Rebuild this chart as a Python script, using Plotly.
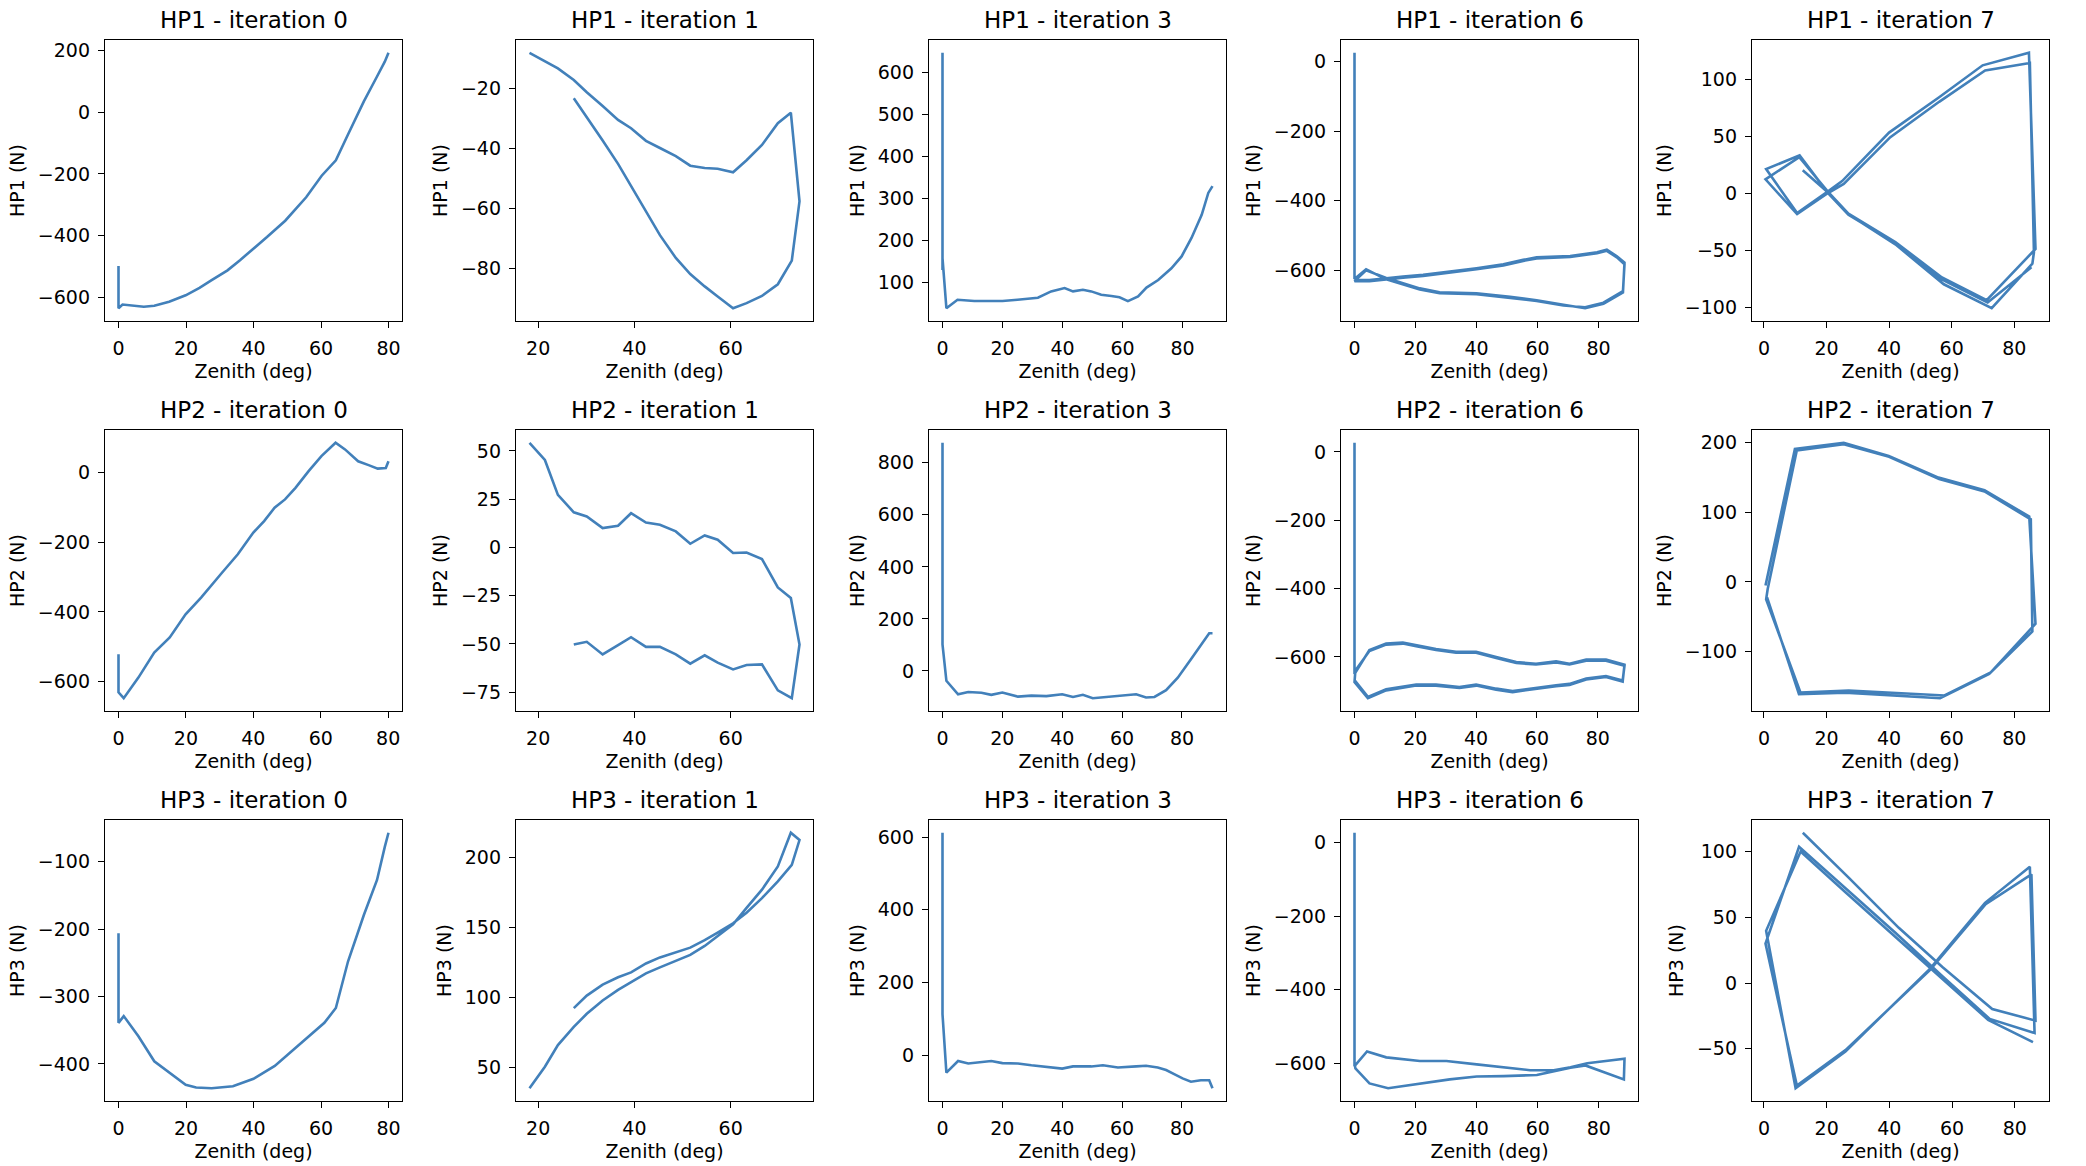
import plotly.graph_objects as go

# ---------------- data ----------------
# iteration 0
zen_it0_hp1 = [0, 0, 1.2, 4, 7.5, 10.6, 15, 19.9, 24, 27.6, 32.3, 36, 40, 44, 49.4, 52.5, 55.6, 60.2, 64.4, 68, 72.7, 76.6, 78.9, 80]
hp1_it0 = [-499, -636, -624, -628, -631, -628, -615, -594, -570, -545, -513, -480, -443, -405, -352, -315, -276, -206, -156, -72, 35, 116, 164, 193]

zen_it0_hp2 = [0, 0, 1.55, 5.9, 10.6, 15.2, 19.9, 24.5, 30.7, 35.4, 40, 43.2, 46.3, 49.4, 52.5, 56.4, 60.2, 64.4, 67.2, 71.1, 74.2, 76.9, 79.3, 80.1]
hp2_it0 = [-521, -630, -647, -588, -516, -473, -407, -359, -288, -235, -173, -140, -102, -78, -45, 3, 46, 84, 65, 31, 20, 10, 12, 31]

zen_it0_hp3 = [0, 0, 1.55, 5.9, 10.6, 15.2, 19.9, 23, 27.6, 33.9, 40, 46.3, 52.5, 58.7, 61, 64.4, 68, 72.7, 76.6, 78.9, 80]
hp3_it0 = [-206, -339, -329, -359, -396, -413, -431, -435, -436, -433, -422, -403, -376, -349, -339, -317, -248, -179, -127, -78, -57]

# iteration 1 (same zenith sequence for the three hardpoints)
zen_it1 = [18.2, 21.4, 24.1, 27.4, 30.1, 33.4, 36.6, 39.3, 42.4, 45.3, 48.6, 51.6, 54.6, 57.3, 60.5, 63.3, 66.5, 69.8, 72.5, 74.3,
           72.7, 69.8, 66.5, 63.3, 60.5, 57.3, 54.6, 51.6, 48.6, 45.3, 42.4, 39.3, 36.6, 33.4, 30.1, 27.4]
hp1_it1 = [-8.1, -11, -13.3, -17.2, -21.3, -25.9, -30.5, -33.3, -37.5, -39.9, -42.6, -45.8, -46.6, -46.8, -48, -44, -38.9, -31.6, -28.1, -57.7,
           -77.5, -85.4, -89.3, -91.7, -93.4, -89.5, -86.1, -82, -76.6, -69, -61, -52.5, -45.2, -37.4, -29.6, -23.3]
hp2_it1 = [54.2, 45.3, 27.2, 18.2, 16, 10, 11.2, 17.7, 12.9, 11.7, 8.3, 1.9, 6.2, 4, -2.9, -2.6, -6, -20.7, -26.2, -50.3,
           -78.1, -74, -60.6, -60.9, -63.2, -59.7, -55.9, -60.2, -55.4, -51.5, -51.5, -46.5, -50.6, -55.4, -48.9, -50.3]
hp3_it1 = [35.1, 50.5, 65.9, 78.9, 88.3, 97.8, 105.4, 110.8, 117.2, 121.5, 126.2, 130.4, 136.8, 143.9, 152.2, 164, 177, 193.6, 217.7, 212.5,
           194.8, 183, 171, 160.5, 153, 146.3, 140.9, 135.6, 132.1, 128.6, 124.3, 117.9, 114.4, 109.2, 101.3, 92.4]

# iteration 3
zen_it3_hp1 = [0, 0, 0, 1.3, 5, 10.6, 16.2, 20, 25, 31.8, 36.2, 40.7, 43.5, 46.8, 49.6, 52.9, 56.3, 59, 61.8, 65.2, 68, 71.9, 76.3, 79.7, 83, 86.4, 88.6, 90]
hp1_it3 = [646, 130, 158, 39, 59, 56, 55, 56, 59, 64, 79, 87, 79, 83, 79, 71, 68, 65, 56, 67, 88, 106, 134, 162, 206, 261, 313, 329]

zen_it3_hp2 = [0, 0, 1.3, 5.2, 8.6, 13, 16.3, 20, 25.2, 29.7, 34.7, 40, 43.6, 46.9, 50.2, 53.6, 58.6, 64.7, 68, 70.8, 74.7, 78.6, 83, 86.9, 89.1, 90.2]
hp2_it3 = [877, 102, -38, -90, -81, -84, -92, -83, -99, -95, -97, -90, -100, -92, -105, -101, -97, -90, -102, -100, -74, -26, 45, 109, 145, 145]

zen_it3_hp3 = [0, 0, 1.3, 5.2, 8.6, 13, 16.3, 20, 25.2, 29.7, 34.7, 40, 43.6, 49.7, 53.6, 58.6, 64.7, 68, 71.9, 74.7, 77.4, 80.2, 83, 86.3, 89.1, 90.2]
hp3_it3 = [612, 113, -48, -16, -23, -18, -16, -22, -23, -28, -32, -37, -31, -31, -28, -34, -31, -29, -34, -41, -52, -64, -73, -69, -69, -91]

# iteration 6
zen_it6_hp1 = [0, 0, 3.8, 10.4, 21.4, 27.9, 40, 51, 59.7, 68.5, 75.6, 81.6, 88, 88.5, 86, 82.7, 79.5, 70.7, 59.7, 55.3, 48.8, 40, 31.2, 22.5, 15.9, 4.9, 0,
               3.8, 10.4, 21.4, 27.9, 40, 51, 59.7, 68.5, 75.6, 81.6, 88, 88.5, 86, 82.7, 79.5, 70.7, 59.7, 55.3, 48.8, 40, 31.2, 22.5, 15.9, 4.9, 0]
hp1_it6 = [25, -625, -597, -626, -655, -666, -669, -679, -688, -701, -706, -693, -660, -583, -563, -544, -551, -562, -566, -573, -586, -597, -607, -616, -621, -631, -631,
           -600, -622, -652, -663, -666, -676, -686, -699, -709, -696, -664, -578, -560, -541, -548, -559, -563, -570, -583, -594, -604, -613, -618, -628, -628]

zen_it6_hp2 = [0, 0, 4.9, 10.4, 15.9, 20.3, 26.8, 33.4, 40, 46.6, 53.2, 59.7, 66.3, 70.7, 76.2, 82.7, 88.8, 88.2, 82.7, 76.2, 70.7, 66.3, 59.7, 52, 46.6, 40, 34.5, 26.8, 20.3, 10.4, 4.4, 0, 0.3,
               4.9, 10.4, 15.9, 20.3, 26.8, 33.4, 40, 46.6, 53.2, 59.7, 66.3, 70.7, 76.2, 82.7, 88.8, 88.2, 82.7, 76.2, 70.7, 66.3, 59.7, 52, 46.6, 40, 34.5, 26.8, 20.3, 10.4, 4.4, 0]
hp2_it6 = [27, -650, -580, -561, -558, -566, -577, -585, -585, -600, -615, -620, -613, -620, -608, -608, -623, -672, -659, -666, -682, -686, -693, -703, -696, -684, -691, -684, -684, -698, -721, -674, -640,
           -583, -564, -561, -569, -580, -588, -588, -603, -618, -622, -616, -622, -611, -611, -626, -669, -656, -663, -679, -683, -690, -700, -693, -681, -688, -681, -681, -695, -717, -668]

zen_it6_hp3 = [0, 0, 4.1, 10.4, 21.4, 30.1, 40, 48.8, 57.5, 65.2, 70.7, 76.2, 81.6, 88.4, 88.2, 81.6, 75.6, 70.7, 64.7, 59.7, 48.8, 40, 31.2, 21.4, 11, 4.9, 0.3, 0]
hp3_it6 = [27, -608, -568, -584, -594, -594, -603, -612, -619, -619, -611, -600, -594, -588, -644, -623, -606, -612, -623, -632, -635, -636, -644, -655, -668, -655, -614, -600]

# iteration 7
zen_it7_hp1 = [12.4, 20.5, 27.5, 42, 57.5, 72.8, 85.8, 86.3, 85, 70.7, 56, 40.4, 25.5, 20.5, 10.6, 0.5, 11.3,
               20.5, 27, 42, 56.9, 71.2, 86.8, 84.7, 69.9, 56, 40, 25, 20.5, 10.6, 0.7, 11.4,
               20.5, 27, 42, 57, 71.5, 85.5]
hp1_it7 = [20, 0.5, -19.5, -45, -80, -101, -62, -52, 114, 107.5, 80, 49, 8, 0, -18.5, 12, 31.5,
           1, -18, -43, -74, -94, -49, 123, 112, 84, 53, 10.5, 1.5, -17.5, 21, 33,
           0, -19, -44, -76, -96, -65]

zen_it7_hp2 = [0.5, 9.9, 25.5, 39.9, 55.8, 70.5, 84.8, 86.8, 72.5, 57.7, 27.1, 11.7, 0.7,
               1.2, 10.5, 25.5, 40, 56, 70.5, 85.3, 85.8, 72, 56.3, 26, 11.2, 1]
hp2_it7 = [-5, 191, 200, 181, 150, 132, 94, -60, -130, -163, -156, -159, -25,
           -10, 189, 198, 180, 148, 130, 90, -71, -132, -167, -159, -161, -22]

zen_it7_hp3 = [12.4, 27.1, 43, 57, 72.8, 86.6, 85.3, 70.7, 53, 26, 10.5, 0.5,
               11.2, 26, 42, 57, 72, 86.3, 84.8, 70.5, 53, 26, 10.1, 0.7,
               11.7, 26, 42, 57, 71.5, 85.8]
hp3_it7 = [114.3, 80, 42, 12, -19.7, -28.6, 82.7, 60, 10, -51, -78, 30,
           103.7, 72, 38, 5, -27.3, -38, 88.5, 61, 11, -52, -80, 39.7,
           100, 69, 35, 3, -28, -45]

hardpoints = ["HP1", "HP2", "HP3"]
iterations = [0, 1, 3, 6, 7]

series = {
    ("HP1", 0): (zen_it0_hp1, hp1_it0), ("HP1", 1): (zen_it1, hp1_it1), ("HP1", 3): (zen_it3_hp1, hp1_it3),
    ("HP1", 6): (zen_it6_hp1, hp1_it6), ("HP1", 7): (zen_it7_hp1, hp1_it7),
    ("HP2", 0): (zen_it0_hp2, hp2_it0), ("HP2", 1): (zen_it1, hp2_it1), ("HP2", 3): (zen_it3_hp2, hp2_it3),
    ("HP2", 6): (zen_it6_hp2, hp2_it6), ("HP2", 7): (zen_it7_hp2, hp2_it7),
    ("HP3", 0): (zen_it0_hp3, hp3_it0), ("HP3", 1): (zen_it1, hp3_it1), ("HP3", 3): (zen_it3_hp3, hp3_it3),
    ("HP3", 6): (zen_it6_hp3, hp3_it6), ("HP3", 7): (zen_it7_hp3, hp3_it7),
}

# tick spacing per panel (y), matching the reference's tick choices
y_dtick = {
    ("HP1", 0): 200, ("HP1", 1): 20, ("HP1", 3): 100, ("HP1", 6): 200, ("HP1", 7): 50,
    ("HP2", 0): 200, ("HP2", 1): 25, ("HP2", 3): 200, ("HP2", 6): 200, ("HP2", 7): 100,
    ("HP3", 0): 100, ("HP3", 1): 50, ("HP3", 3): 200, ("HP3", 6): 200, ("HP3", 7): 50,
}

# ---------------- layout ----------------
W, H = 2086, 1166
col_left = [105, 516, 929, 1341, 1752]
row_top = [40, 430, 820]
pw, ph = 297, 281
LINE_COLOR = "#4280ba"
FONT = "DejaVu Sans"

fig = go.Figure()
annotations = []
layout_axes = {}

def padded(vals):
    lo, hi = min(vals), max(vals)
    s = hi - lo
    return [lo - 0.05 * s, hi + 0.05 * s]

n = 0
for r, hp in enumerate(hardpoints):
    for c, it in enumerate(iterations):
        n += 1
        xs, ys = series[(hp, it)]
        xname = "x" if n == 1 else f"x{n}"
        yname = "y" if n == 1 else f"y{n}"
        fig.add_trace(go.Scatter(x=xs, y=ys, mode="lines",
                                 line=dict(color=LINE_COLOR, width=2.6),
                                 xaxis=xname, yaxis=yname, showlegend=False,
                                 hoverinfo="skip"))
        x0 = col_left[c] / W
        x1 = (col_left[c] + pw) / W
        y1 = 1 - row_top[r] / H
        y0 = 1 - (row_top[r] + ph) / H
        common = dict(showline=True, mirror=True, linecolor="black", linewidth=1.3,
                      ticks="outside", ticklen=6, tickwidth=1.3, tickcolor="black",
                      showgrid=False, zeroline=False,
                      tickfont=dict(family=FONT, size=19, color="black"),
                      tickmode="linear", tick0=0, ticklabelstandoff=4)
        layout_axes["xaxis" if n == 1 else f"xaxis{n}"] = dict(
            domain=[x0, x1], anchor=yname, range=padded(xs), dtick=20,
            title=dict(text="Zenith (deg)", font=dict(family=FONT, size=19, color="black"), standoff=6),
            **common)
        layout_axes["yaxis" if n == 1 else f"yaxis{n}"] = dict(
            domain=[y0, y1], anchor=xname, range=padded(ys), dtick=y_dtick[(hp, it)],
            title=dict(text=f"{hp} (N)", font=dict(family=FONT, size=19, color="black"), standoff=8),
            **common)
        annotations.append(dict(text=f"{hp} - iteration {it}", x=(x0 + x1) / 2, y=y1,
                                xref="paper", yref="paper", xanchor="center", yanchor="bottom",
                                yshift=5, showarrow=False,
                                font=dict(family=FONT, size=23, color="black")))

fig.update_layout(width=W, height=H, autosize=False,
                  margin=dict(l=0, r=0, t=0, b=0),
                  paper_bgcolor="white", plot_bgcolor="white",
                  annotations=annotations, **layout_axes)

fig.write_html("out.html")
